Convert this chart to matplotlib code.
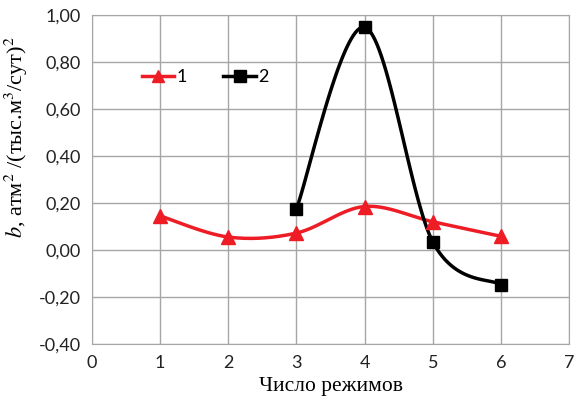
import numpy as np
import matplotlib.pyplot as plt

plt.rcParams['mathtext.fontset'] = 'stix'

# data
x1 = [1, 2, 3, 4, 5, 6]
y1 = [0.145, 0.055, 0.072, 0.185, 0.12, 0.058]
x2 = [3, 4, 5, 6]
y2 = [0.175, 0.948, 0.034, -0.148]
labels = ['1', '2']


def excel_smooth(xs, ys, n=40):
    # Excel-style smoothed line: cubic bezier with Catmull-Rom control points
    p = np.column_stack([xs, ys]).astype(float)
    out = []
    for i in range(len(p) - 1):
        p0 = p[i - 1] if i > 0 else p[i]
        p1, p2 = p[i], p[i + 1]
        p3 = p[i + 2] if i + 2 < len(p) else p[i + 1]
        c1 = p1 + (p2 - p0) / 6
        c2 = p2 - (p3 - p1) / 6
        t = np.linspace(0, 1, n)[:, None]
        seg = (1-t)**3*p1 + 3*(1-t)**2*t*c1 + 3*(1-t)*t**2*c2 + t**3*p2
        out.append(seg)
    s = np.vstack(out)
    return s[:, 0], s[:, 1]


fig = plt.figure(figsize=(5.82, 4.07), dpi=100)
ax = fig.add_axes([0.158, 0.155, 0.82, 0.808])

red = '#ee1c25'
sx, sy = excel_smooth(x1, y1)
ax.plot(sx, sy, color=red, lw=2.5, zorder=3)
ax.plot(x1, y1, ls='none', marker='^', ms=10, color=red, zorder=4)
sx, sy = excel_smooth(x2, y2)
ax.plot(sx, sy, color='black', lw=2.5, zorder=3)
ax.plot(x2, y2, ls='none', marker='s', ms=9, color='black', zorder=4)

# legend handles
h1, = ax.plot([], [], color=red, lw=2.5, marker='^', ms=9)
h2, = ax.plot([], [], color='black', lw=2.5, marker='s', ms=8)
ax.legend([h1, h2], labels, ncol=2, frameon=False, loc='upper left',
          bbox_to_anchor=(0.07, 0.885), handlelength=1.8, columnspacing=2.0,
          handletextpad=0.15, prop={'family': 'Lato', 'size': 13})

ax.set_xlim(0, 7)
ax.set_ylim(-0.4, 1.0)
ax.set_xticks(range(0, 8))
yt = np.arange(-0.4, 1.01, 0.2)
ax.set_yticks(yt)
ax.set_yticklabels([f'{v:.2f}'.replace('.', ',').replace('-0,00', '0,00') for v in yt])
ax.tick_params(length=0, labelsize=13, pad=8, labelcolor='#222222')
for lab in ax.get_xticklabels() + ax.get_yticklabels():
    lab.set_family('Lato')
ax.grid(True, color='#a6a6a6', lw=1)
ax.set_axisbelow(True)
for s in ax.spines.values():
    s.set_color('#a6a6a6')

ax.set_xlabel('Число режимов', family='Liberation Serif', fontsize=15.5, labelpad=4)
ax.set_ylabel(r'$b$, атм$^2$ /(тыс.м$^3$/сут)$^2$', family='Liberation Serif',
              fontsize=16)
ax.yaxis.set_label_coords(-0.13, 0.63)

fig.savefig('out.png', dpi=100)
